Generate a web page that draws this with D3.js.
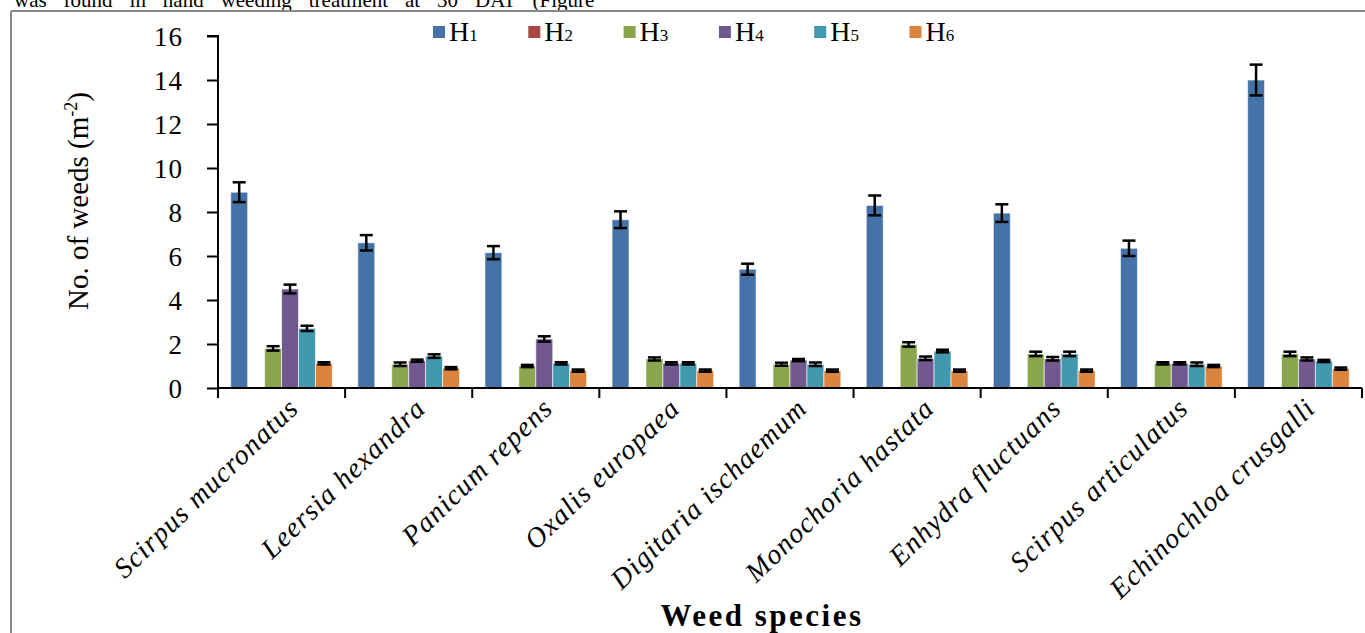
<!DOCTYPE html>
<html>
<head>
<meta charset="utf-8">
<script src="https://cdn.jsdelivr.net/npm/d3@7"></script>
<style>
  html, body { margin: 0; padding: 0; background: #fff; }
  svg { display: block; }
</style>
</head>
<body>
<svg id="chart" width="1365" height="633"></svg>
<script>
const categories = ["Scirpus mucronatus", "Leersia hexandra", "Panicum repens", "Oxalis europaea",
  "Digitaria ischaemum", "Monochoria hastata", "Enhydra fluctuans", "Scirpus articulatus", "Echinochloa crusgalli"];
const seriesNames = ["H1", "H2", "H3", "H4", "H5", "H6"];
const seriesColors = ["#4572A7", "#AA4643", "#89A54E", "#71588F", "#4198AF", "#DB843D"];

const H1 = [8.9, 6.6, 6.15, 7.65, 5.4, 8.3, 7.95, 6.35, 14.0];
const H2 = [0, 0, 0, 0, 0, 0, 0, 0, 0];
const H3 = [1.8, 1.08, 1.0, 1.32, 1.08, 1.98, 1.55, 1.12, 1.55];
const H4 = [4.5, 1.24, 2.23, 1.12, 1.27, 1.35, 1.33, 1.12, 1.32];
const H5 = [2.71, 1.45, 1.12, 1.12, 1.08, 1.68, 1.55, 1.08, 1.23];
const H6 = [1.12, 0.9, 0.79, 0.79, 0.79, 0.79, 0.79, 1.0, 0.88];

const H1err = [0.45, 0.35, 0.3, 0.38, 0.25, 0.45, 0.4, 0.35, 0.7];
const H2err = [0, 0, 0, 0, 0, 0, 0, 0, 0];
const H3err = [0.1, 0.08, 0.05, 0.07, 0.07, 0.1, 0.1, 0.05, 0.1];
const H4err = [0.2, 0.05, 0.12, 0.05, 0.05, 0.08, 0.08, 0.05, 0.07];
const H5err = [0.12, 0.08, 0.05, 0.05, 0.08, 0.06, 0.1, 0.08, 0.05];
const H6err = [0.05, 0.05, 0.05, 0.05, 0.05, 0.05, 0.05, 0.05, 0.05];

const yTicks = [0, 2, 4, 6, 8, 10, 12, 14, 16];

const values = [H1, H2, H3, H4, H5, H6];
const errors = [H1err, H2err, H3err, H4err, H5err, H6err];

const svg = d3.select("#chart");
const serif = "'Liberation Serif', 'Times New Roman', serif";

// page text & frame
const topText = svg.append("text").attr("x", 14).attr("y", 7)
  .attr("font-family", serif).attr("font-size", 21)
  .text("was found in hand weeding treatment at 30 DAT (Figure");
const natural = topText.node().getComputedTextLength();
topText.attr("word-spacing", Math.max(0, (592 - natural) / 10));
svg.append("line").attr("x1", 11).attr("x2", 1365).attr("y1", 11).attr("y2", 11)
  .attr("stroke", "#888").attr("stroke-width", 2);
svg.append("line").attr("x1", 11).attr("x2", 11).attr("y1", 11).attr("y2", 633)
  .attr("stroke", "#888").attr("stroke-width", 2);

const x0 = d3.scaleBand().domain(categories).range([218, 1362]).paddingInner(0).paddingOuter(0);
const bw = x0.bandwidth();
const x1 = d3.scaleBand().domain(seriesNames).range([bw * 0.1, bw * 0.9]).padding(0);
const y = d3.scaleLinear().domain([0, 16]).range([388, 36]);

// bars
const groups = svg.append("g").selectAll("g").data(categories).join("g")
  .attr("transform", d => `translate(${x0(d)},0)`);

groups.each(function(cat, ci) {
  const g = d3.select(this);
  seriesNames.forEach((s, si) => {
    const v = values[si][ci];
    if (v <= 0) return;
    g.append("rect")
      .attr("x", x1(s)).attr("width", x1.bandwidth())
      .attr("y", y(v)).attr("height", y(0) - y(v))
      .attr("fill", seriesColors[si])
      .attr("stroke", "rgba(255,255,255,0.6)").attr("stroke-width", 1);
  });
});
groups.each(function(cat, ci) {
  const g = d3.select(this);
  seriesNames.forEach((s, si) => {
    const v = values[si][ci], e = errors[si][ci];
    if (v <= 0) return;
    const cx = x1(s) + x1.bandwidth() / 2;
    const cap = 6.5;
    g.append("line").attr("x1", cx).attr("x2", cx)
      .attr("y1", y(v + e)).attr("y2", y(v - e))
      .attr("stroke", "#000").attr("stroke-width", 2.5);
    [v + e, v - e].forEach(t => {
      g.append("line").attr("x1", cx - cap).attr("x2", cx + cap)
        .attr("y1", y(t)).attr("y2", y(t))
        .attr("stroke", "#000").attr("stroke-width", 2.5);
    });
  });
});

// y axis
const yAxis = d3.axisLeft(y).tickValues(yTicks).tickSize(11).tickPadding(24).tickFormat(d3.format("d"));
const ya = svg.append("g").attr("transform", "translate(218,0)").call(yAxis);
ya.select(".domain").attr("stroke", "#000").attr("stroke-width", 2).attr("d", "M-11,36H0V388");
ya.selectAll(".tick line").attr("stroke", "#000").attr("stroke-width", 2);
ya.selectAll(".tick text").attr("font-family", serif).attr("font-size", 27).attr("fill", "#000")
  .attr("letter-spacing", 1).attr("dy", "0.34em");

// x axis
const xa = svg.append("g").attr("transform", "translate(0,388)");
xa.append("line").attr("x1", 218).attr("x2", 1362).attr("y1", 0).attr("y2", 0)
  .attr("stroke", "#000").attr("stroke-width", 2);
const boundaries = categories.map(c => x0(c)).concat([x0(categories[categories.length - 1]) + bw]);
xa.selectAll("line.tk").data(boundaries).join("line").attr("class", "tk")
  .attr("x1", d => d).attr("x2", d => d).attr("y1", 0).attr("y2", 10)
  .attr("stroke", "#000").attr("stroke-width", 2);
xa.selectAll("text.cat").data(categories).join("text").attr("class", "cat")
  .attr("transform", d => `translate(${x0(d) + bw / 2 + 5},${8}) rotate(-44)`)
  .attr("text-anchor", "end")
  .attr("font-family", serif).attr("font-style", "italic").attr("font-size", 28)
  .attr("letter-spacing", 1.2)
  .attr("dy", "0.7em")
  .text(d => d);

// axis titles
const yt = svg.append("text")
  .attr("transform", "translate(88,201) rotate(-90)")
  .attr("text-anchor", "middle")
  .attr("font-family", serif).attr("font-size", 29).attr("fill", "#000");
yt.append("tspan").text("No. of weeds (m");
yt.append("tspan").attr("font-size", 18).attr("dy", -11).text("-2");
yt.append("tspan").attr("dy", 11).text(")");

svg.append("text").attr("x", 762).attr("y", 626).attr("text-anchor", "middle")
  .attr("font-family", serif).attr("font-weight", "bold").attr("font-size", 31)
  .attr("letter-spacing", 2.5)
  .text("Weed species");

// legend
const legend = svg.append("g");
seriesNames.forEach((s, i) => {
  const lx = 433 + i * 95.3;
  legend.append("rect").attr("x", lx).attr("y", 26).attr("width", 12).attr("height", 12)
    .attr("fill", seriesColors[i]);
  const t = legend.append("text").attr("x", lx + 16).attr("y", 41)
    .attr("font-family", serif).attr("font-size", 28);
  t.append("tspan").text(s.charAt(0));
  t.append("tspan").attr("font-size", 17).text(s.slice(1));
});
</script>
</body>
</html>
